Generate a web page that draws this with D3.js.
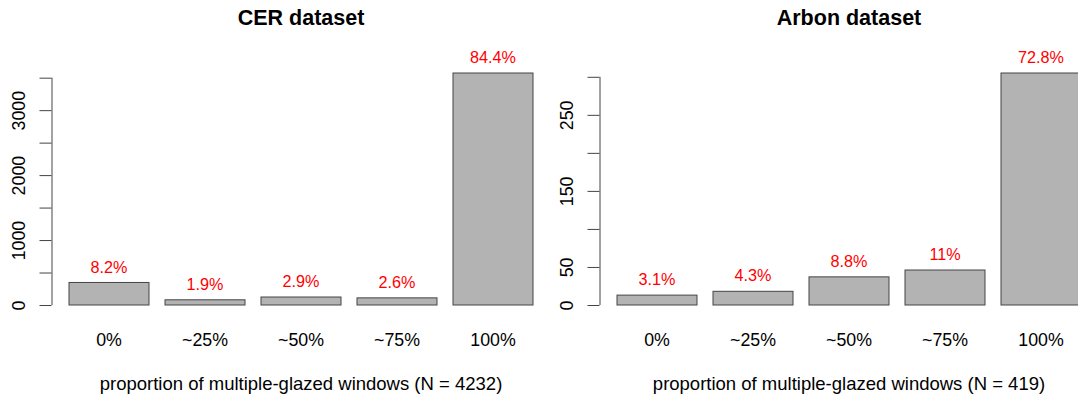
<!DOCTYPE html>
<html><head><meta charset="utf-8">
<script src="https://cdn.jsdelivr.net/npm/d3@7"></script>
<style>body{margin:0;background:#fff;} svg{display:block;font-family:"Liberation Sans",Arial,Helvetica,sans-serif;}</style>
</head><body>
<svg id="chart" width="1078" height="400"></svg>
<script>
const categories = ["0%", "~25%", "~50%", "~75%", "100%"];
const cerCounts = [347, 80, 123, 110, 3572];
const cerPct = ["8.2%", "1.9%", "2.9%", "2.6%", "84.4%"];
const cerTicks = [0, 500, 1000, 1500, 2000, 2500, 3000, 3500];
const cerTickLabels = [0, 1000, 2000, 3000];
const arbonCounts = [13, 18, 37, 46, 305];
const arbonPct = ["3.1%", "4.3%", "8.8%", "11%", "72.8%"];
const arbonTicks = [0, 50, 100, 150, 200, 250, 300];
const arbonTickLabels = [0, 50, 150, 250];
const titles = ["CER dataset", "Arbon dataset"];
const xTitles = ["proportion of multiple-glazed windows (N = 4232)", "proportion of multiple-glazed windows (N = 419)"];

const svg = d3.select("#chart");
const panels = [
  {counts: cerCounts, pct: cerPct, ticks: cerTicks, labels: cerTickLabels, title: titles[0], xt: xTitles[0], off: 0},
  {counts: arbonCounts, pct: arbonPct, ticks: arbonTicks, labels: arbonTickLabels, title: titles[1], xt: xTitles[1], off: 548}
];

panels.forEach(p => {
  const g = svg.append("g").attr("transform", `translate(${p.off},0)`);
  const x = d3.scaleBand().domain(categories).range([61, 541]).paddingInner(1/6).paddingOuter(1/12);
  const y = d3.scaleLinear().domain([0, d3.max(p.counts)]).range([305, 73]);

  g.selectAll("rect.bar").data(p.counts).join("rect")
    .attr("class", "bar")
    .attr("x", (d, i) => x(categories[i]))
    .attr("y", d => y(d))
    .attr("width", x.bandwidth())
    .attr("height", d => y(0) - y(d))
    .attr("fill", "#b3b3b3")
    .attr("stroke", "#444")
    .attr("stroke-width", 1);

  g.selectAll("text.pct").data(p.pct).join("text")
    .attr("class", "pct")
    .attr("x", (d, i) => x(categories[i]) + x.bandwidth() / 2)
    .attr("y", (d, i) => y(p.counts[i]) - 15.5)
    .attr("dy", "0.35em")
    .attr("text-anchor", "middle")
    .attr("fill", "#ff0000")
    .attr("font-size", "16.2px")
    .text(d => d);

  const yAxis = d3.axisLeft(y).tickValues(p.ticks).tickSizeOuter(0).tickSizeInner(12)
    .tickFormat(d => p.labels.includes(d) ? String(d) : "");
  const ag = g.append("g").attr("transform", "translate(51.5,0)").call(yAxis);
  ag.select(".domain").attr("stroke", "#444").attr("d", `M0.5,${y(p.ticks[0])}V${y(p.ticks[p.ticks.length-1])}`);
  ag.selectAll(".tick line").attr("stroke", "#444");
  ag.selectAll(".tick text")
    .attr("x", null).attr("dy", "0.35em")
    .attr("transform", "translate(-33,0) rotate(-90)")
    .attr("text-anchor", "middle")
    .attr("fill", "#000")
    .attr("font-size", "17.8px")
    .attr("font-family", "Liberation Sans, Arial, sans-serif");

  g.selectAll("text.cat").data(categories).join("text")
    .attr("class", "cat")
    .attr("x", d => x(d) + x.bandwidth() / 2)
    .attr("y", 340)
    .attr("dy", "0.35em")
    .attr("text-anchor", "middle")
    .attr("font-size", "17.8px")
    .attr("fill", "#000")
    .text(d => d);

  g.append("text").attr("x", 301).attr("y", 25).attr("text-anchor", "middle")
    .attr("font-weight", "bold").attr("font-size", "21.5px").text(p.title);

  g.append("text").attr("x", 301).attr("y", 384).attr("dy", "0.35em").attr("text-anchor", "middle")
    .attr("font-size", "18.5px").text(p.xt);
});
</script>
</body></html>
